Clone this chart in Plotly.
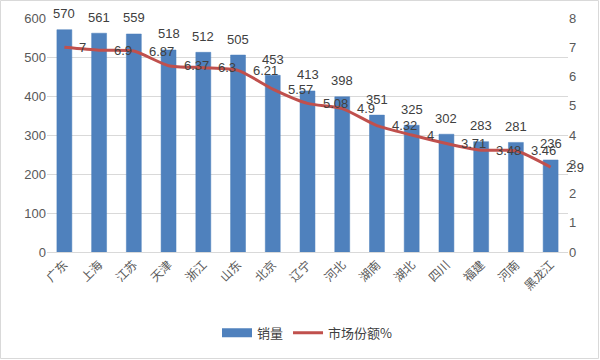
import plotly.graph_objects as go

categories = ["广东", "上海", "江苏", "天津", "浙江", "山东", "北京", "辽宁", "河北", "湖南", "湖北", "四川", "福建", "河南", "黑龙江"]
sales = [570, 561, 559, 518, 512, 505, 453, 413, 398, 351, 325, 302, 283, 281, 236]
share = [7, 6.9, 6.87, 6.37, 6.3, 6.21, 5.57, 5.08, 4.9, 4.32, 4, 3.71, 3.48, 3.46, 2.9]
left_ticks = [0, 100, 200, 300, 400, 500, 600]
right_ticks = [0, 1, 2, 3, 4, 5, 6, 7, 8]

FONT = "Noto Sans CJK SC, Liberation Sans, sans-serif"
NUMFONT = "Liberation Sans, Noto Sans CJK SC, sans-serif"
BLUE, RED = "#4F81BD", "#C0504D"
L, R, T, B = 47, 32, 18, 108
W, H = 600, 360
pw, ph = W - L - R, H - T - B

fig = go.Figure()
fig.add_trace(go.Bar(
    x=categories, y=sales, name="销量", showlegend=False,
    marker=dict(color=BLUE, line=dict(color="#4A7EBB", width=0.5)),
    cliponaxis=False,
))
# legend entry drawn as a wide swatch, like the original
fig.add_trace(go.Scatter(
    x=[None], y=[None], name="销量", mode="lines",
    line=dict(color=BLUE, width=9), hoverinfo="skip",
))
fig.add_trace(go.Scatter(
    x=categories, y=share, name="市场份额%", yaxis="y2",
    mode="lines", line=dict(color=RED, width=3, shape="spline", smoothing=0.6),
    cliponaxis=False,
))

annotations = []
for c, v in zip(categories, sales):
    annotations.append(dict(x=c, y=v, xref="x", yref="y", text=str(v), showarrow=False,
                            yshift=16, font=dict(size=13, color="#404040", family=NUMFONT)))
for c, v in zip(categories, share):
    annotations.append(dict(x=c, y=v, xref="x", yref="y2", text="%g" % v, showarrow=False,
                            xanchor="left", xshift=13, yshift=0,
                            font=dict(size=13, color="#404040", family=NUMFONT)))

fig.update_layout(
    width=W, height=H,
    margin=dict(l=L, r=R, t=T, b=B, autoexpand=False),
    paper_bgcolor="white", plot_bgcolor="white",
    font=dict(family=FONT, size=12, color="#595959"),
    bargap=0.57,
    showlegend=True,
    legend=dict(orientation="h", x=0.5, xanchor="center", y=-0.345, yanchor="middle",
                font=dict(size=13, color="#404040"), traceorder="normal"),
    xaxis=dict(tickangle=-45, showgrid=False, showline=True, linecolor="#D9D9D9", automargin=False,
               range=[-0.5, len(categories) - 0.5], autorange=False,
               tickfont=dict(size=12, color="#595959"), ticks=""),
    yaxis=dict(range=[0, 600], tickvals=left_ticks, showgrid=True, gridcolor="#D9D9D9", automargin=False,
               zeroline=False, tickfont=dict(size=13, color="#595959", family=NUMFONT), ticks=""),
    yaxis2=dict(range=[0, 8], tickvals=right_ticks, overlaying="y", side="right", automargin=False,
                showgrid=False, zeroline=False, tickfont=dict(size=13, color="#595959", family=NUMFONT), ticks=""),
    annotations=annotations,
    shapes=[dict(type="rect", xref="paper", yref="paper",
                 x0=(0.5 - L) / pw, x1=(W - 1.5 - L) / pw,
                 y0=(T + ph - (H - 1.5)) / ph, y1=(T + ph - 0.5) / ph,
                 line=dict(color="#D9D9D9", width=1), fillcolor="rgba(0,0,0,0)", layer="below")],
)

fig.write_html("out.html", config={"displayModeBar": False},
               post_script="document.body.style.margin='0';document.body.style.overflow='hidden';")
